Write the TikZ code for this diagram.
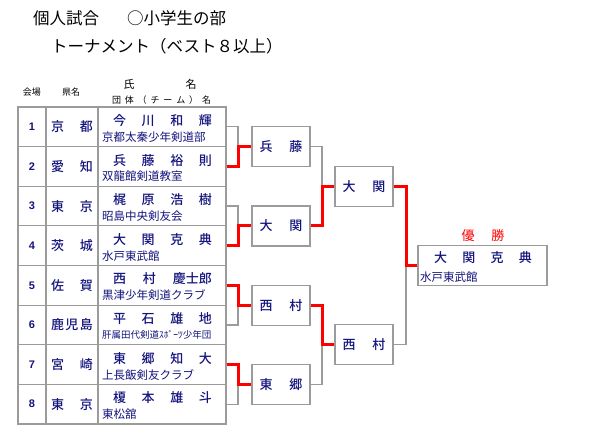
\documentclass[tikz,border=0pt]{standalone}
\usepackage{fontspec}
\setmainfont{Noto Sans CJK JP}[BoldFont={Noto Sans CJK JP Medium}]
\newfontfamily\numfont{Liberation Sans}
\definecolor{navy}{RGB}{20,20,125}
\definecolor{bordergray}{RGB}{155,155,155}
\definecolor{winred}{RGB}{255,0,0}
\newcommand\sprd[2]{\makebox[#1][s]{#2}}
\newcommand\fs[1]{\fontsize{#1}{#1}\selectfont}
\tikzset{
  cell/.style={draw=bordergray,line width=1.2pt,fill=white,inner sep=0pt,minimum height=39.625pt},
  rbox/.style={draw=bordergray,line width=1.2pt,fill=white,inner sep=0pt,minimum width=58pt,minimum height=40pt,text=navy,font=\bfseries\fs{13}},
  gline/.style={draw=bordergray,line width=1.2pt},
  rline/.style={draw=winred,line width=3pt,line join=miter},
  txt/.style={inner sep=0pt,text=navy},
  hdr/.style={inner sep=0pt,text=black}
}
\begin{document}
\begin{tikzpicture}[x=1pt,y=-1pt]
\useasboundingbox (0,0) rectangle (600,440);
% titles
\node[hdr,anchor=west,font=\fs{16.5}] (t1) at (33,18) {個人試合\hspace{28pt}○小学生の部};
\node[hdr,anchor=west,font=\fs{16.5}] (t2) at (51,46) {トーナメント（ベスト８以上）};
% headers
\node[hdr,font=\fs{9}] (h1) at (32,92) {会場};
\node[hdr,font=\fs{9}] (h2) at (71,92) {県名};
\node[hdr,font=\fs{11}] (h3) at (129,84) {氏};
\node[hdr,font=\fs{11}] (h4) at (191,84) {名};
\node[hdr,font=\fs{9}] (h5) at (161.5,100) {\sprd{99pt}{団\hfill 体\hfill （\hfill チ\hfill ー\hfill ム\hfill ）\hfill 名}};
% coordinates for bracket joints
\coordinate (j1) at (238,0);
\coordinate (j2) at (322,0);
\coordinate (j3) at (406,0);
% table rows
\foreach \i/\num/\pref/\name/\team/\tfs in {
  1/1/{京\hfill 都}/{今\hfill 川\hfill 和\hfill 輝}/{京都太秦少年剣道部}/11.5,
  2/2/{愛\hfill 知}/{兵\hfill 藤\hfill 裕\hfill 則}/{双龍館剣道教室}/11.5,
  3/3/{東\hfill 京}/{梶\hfill 原\hfill 浩\hfill 樹}/{昭島中央剣友会}/11.5,
  4/4/{茨\hfill 城}/{大\hfill 関\hfill 克\hfill 典}/{水戸東武館}/11.5,
  5/5/{佐\hfill 賀}/{西\hfill 村\hfill 慶士郎}/{黒津少年剣道クラブ}/11.5,
  6/6/{鹿\hfill 児\hfill 島}/{平\hfill 石\hfill 雄\hfill 地}/{肝属田代剣道ｽﾎﾟｰﾂ少年団}/9.5,
  7/7/{宮\hfill 崎}/{東\hfill 郷\hfill 知\hfill 大}/{上長飯剣友クラブ}/11.5,
  8/8/{東\hfill 京}/{榎\hfill 本\hfill 雄\hfill 斗}/{東松舘}/11.5}{
  \pgfmathsetmacro\top{107+(\i-1)*39.625}
  \pgfmathsetmacro\mid{\top+19.8125}
  \node[cell,minimum width=28pt] (c\i) at (32,\mid) {};
  \node[cell,minimum width=52pt] (k\i) at (72,\mid) {};
  \node[cell,minimum width=128pt] (p\i) at (162,\mid) {};
  \node[txt,font=\numfont\bfseries\fs{11}] (n\i) at (c\i) {\num};
  \node[txt,font=\bfseries\fs{13}] (q\i) at (k\i) {\sprd{42pt}{\pref}};
  \node[txt,font=\bfseries\fs{13}] (m\i) at (162.5,\top+13.5) {\sprd{99pt}{\name}};
  \node[txt,anchor=west,font=\fs{\tfs}] (e\i) at (102,\top+30) {\team};
}
% round boxes
\node[rbox] (r1) at (281,146.6) {\sprd{43pt}{兵\hfill 藤}};
\node[rbox] (r2) at (281,225.9) {\sprd{43pt}{大\hfill 関}};
\node[rbox] (r3) at (281,305.1) {\sprd{43pt}{西\hfill 村}};
\node[rbox] (r4) at (281,384.4) {\sprd{43pt}{東\hfill 郷}};
\node[rbox] (s1) at (364,186.3) {\sprd{43pt}{大\hfill 関}};
\node[rbox] (s2) at (364,344.8) {\sprd{43pt}{西\hfill 村}};
\node[rbox,minimum width=129pt] (f) at (482.5,265.5) {};
\node[txt,font=\bfseries\fs{13}] (fn) at (483,258) {\sprd{98pt}{大\hfill 関\hfill 克\hfill 典}};
\node[txt,anchor=west,font=\fs{11.5}] (ft) at (420,277) {水戸東武館};
\node[txt,text=winred,font=\fs{13}] (win) at (483,236) {\sprd{43pt}{優\hfill 勝}};
% gray connectors
\draw[gline] (p1.east) -- (p1.east -| j1) |- (r1.west);
\draw[gline] (p3.east) -- (p3.east -| j1) |- (r2.west);
\draw[gline] (p6.east) -- (p6.east -| j1) |- (r3.west);
\draw[gline] (p8.east) -- (p8.east -| j1) |- (r4.west);
\draw[gline] (r1.east) -- (r1.east -| j2) |- (s1.west);
\draw[gline] (r4.east) -- (r4.east -| j2) |- (s2.west);
\draw[gline] (s2.east) -- (s2.east -| j3) |- (f.west);
% red connectors
\draw[rline] (p2.east) -- (p2.east -| j1) |- (r1.west);
\draw[rline] (p4.east) -- (p4.east -| j1) |- (r2.west);
\draw[rline] (p5.east) -- (p5.east -| j1) |- (r3.west);
\draw[rline] (p7.east) -- (p7.east -| j1) |- (r4.west);
\draw[rline] (r2.east) -- (r2.east -| j2) |- (s1.west);
\draw[rline] (r3.east) -- (r3.east -| j2) |- (s2.west);
\draw[rline] (s1.east) -- (s1.east -| j3) |- (f.west);
\end{tikzpicture}
\end{document}
